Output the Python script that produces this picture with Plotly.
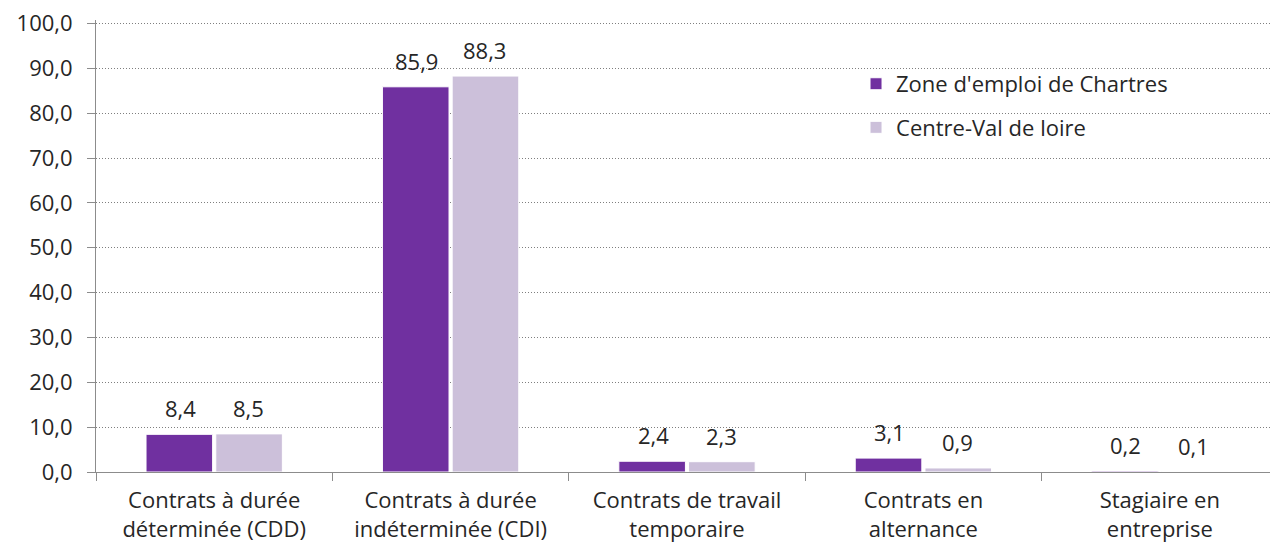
import plotly.graph_objects as go

categories = ["Contrats à durée<br>déterminée (CDD)", "Contrats à durée<br>indéterminée (CDI)",
              "Contrats de travail<br>temporaire", "Contrats en<br>alternance", "Stagiaire en<br>entreprise"]
zone_name = "Zone d'emploi de Chartres"
region_name = "Centre-Val de loire"
zone_values = [8.4, 85.9, 2.4, 3.1, 0.2]
region_values = [8.5, 88.3, 2.3, 0.9, 0.1]

purple = "#7030A0"
lavender = "#CCC0DA"
font_family = "'Open Sans', sans-serif"
text_color = "#262626"
fs = 22

fig = go.Figure()
fig.add_trace(go.Bar(name=zone_name, x=categories, y=zone_values, marker=dict(color=purple, line=dict(color="white", width=1)),
                     legendgroup="a"))
fig.add_trace(go.Bar(name=region_name, x=categories, y=region_values, marker=dict(color=lavender, line=dict(color="white", width=1)),
                     legendgroup="b"))

annotations = []
for vals, shift in ((zone_values, -34), (region_values, 34)):
    for c, v in zip(categories, vals):
        annotations.append(dict(x=c, y=v, xref="x", yref="y", text=f"{v:.1f}".replace(".", ","),
                                showarrow=False, xshift=shift, yshift=26, yanchor="middle",
                                font=dict(size=fs, color=text_color, family=font_family)))

fig.update_layout(
    width=1270, height=544,
    margin=dict(l=88, r=0, t=12, b=80),
    paper_bgcolor="white", plot_bgcolor="white",
    barmode="group", bargap=0.41, bargroupgap=0.045,
    separators=", ",
    font=dict(family=font_family, size=fs, color=text_color),
    annotations=annotations,
    legend=dict(x=0.643, y=0.905, xanchor="left", yanchor="top", bgcolor="rgba(0,0,0,0)",
                font=dict(size=fs, color=text_color), tracegroupgap=12, itemwidth=30),
    showlegend=True,
)
fig.update_yaxes(range=[0, 100.8], dtick=10, tickformat=".1f", showgrid=True, gridcolor="#7f7f7f",
                 griddash="1px,2px", gridwidth=1, showline=True, linecolor="#8c8c8c", linewidth=1,
                 ticks="outside", ticklen=8, tickcolor="#8c8c8c", zeroline=False, automargin=False,
                 ticklabelstandoff=10, ticklabeloverflow="allow", tickfont=dict(size=fs, color=text_color))
fig.update_xaxes(showline=True, linecolor="#8c8c8c", linewidth=1, ticks="outside", ticklen=8,
                 tickcolor="#8c8c8c", tickson="boundaries", automargin=False, ticklabelstandoff=9,
                 tickfont=dict(size=fs, color=text_color))

fig.write_html("out.html")
